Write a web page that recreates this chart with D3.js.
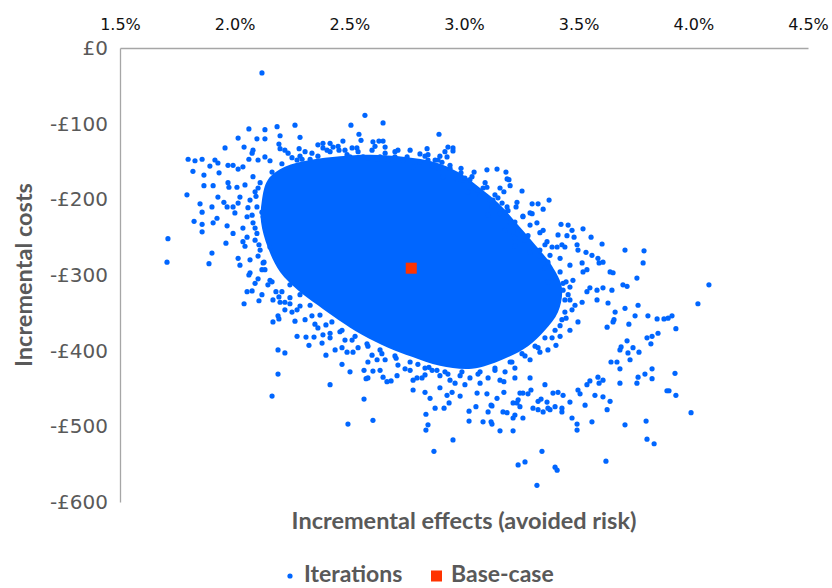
<!DOCTYPE html>
<html>
<head>
<meta charset="utf-8">
<script src="https://cdn.jsdelivr.net/npm/d3@7"></script>
<style>
  body { margin: 0; background: #fff; }
</style>
</head>
<body>
<div id="chart"></div>
<script>
// tick values
const xTicks = [1.5, 2.0, 2.5, 3.0, 3.5, 4.0, 4.5];
const yTicks = [0, -100, -200, -300, -400, -500, -600];

// base-case result: [incremental effect (%), incremental cost (£)]
const baseCase = [2.77, -291];

// outline of the area where the iterations overlap into solid colour
const denseCloud = [
  [2.119,-201],[2.145,-174],[2.219,-157],[2.329,-148],[2.459,-143],[2.590,-141],[2.743,-144],
  [2.874,-151],[2.974,-164],[3.070,-185],[3.157,-207],[3.236,-234],[3.310,-260],[3.384,-288],
  [3.427,-317],[3.410,-349],[3.353,-373],[3.279,-394],[3.166,-412],[3.035,-424],[2.895,-420],
  [2.773,-408],[2.669,-396],[2.555,-379],[2.451,-359],[2.363,-340],[2.276,-320],[2.198,-296],
  [2.145,-264],[2.115,-230]
];

const iterations = [
  [2.119,-33],[2.568,-89],[2.647,-99],[2.507,-102],[2.263,-102],[2.062,-107],[2.132,-108],[2.185,-104],
  [2.891,-114],[2.542,-114],[2.015,-119],[2.097,-120],[2.132,-120],[2.198,-116],[2.285,-118],[2.551,-122],
  [2.603,-124],[2.629,-123],[2.647,-123],[2.472,-123],[2.385,-126],[2.416,-126],[1.958,-132],[2.041,-131],
  [2.080,-135],[2.193,-127],[2.198,-133],[2.219,-135],[2.233,-139],[2.281,-133],[2.337,-139],[2.451,-130],
  [2.455,-135],[2.512,-132],[2.538,-137],[2.656,-131],[2.699,-137],[2.839,-133],[2.843,-141],[2.843,-148],
  [1.797,-147],[1.827,-149],[1.858,-147],[1.818,-163],[1.866,-168],[1.892,-156],[1.914,-148],[1.927,-152],
  [1.932,-165],[1.971,-155],[1.993,-155],[2.015,-160],[2.036,-157],[2.062,-147],[2.076,-139],[2.102,-148],
  [2.132,-144],[2.154,-149],[1.866,-182],[1.906,-182],[1.971,-178],[1.975,-184],[1.792,-194],[1.849,-206],
  [1.858,-217],[1.901,-210],[1.927,-197],[1.953,-204],[1.967,-210],[1.823,-229],[1.858,-233],[1.858,-243],
  [1.906,-231],[1.923,-225],[1.967,-235],[2.001,-218],[2.015,-205],[1.993,-245],[1.962,-258],[1.709,-252],
  [1.705,-283],[1.901,-271],[1.888,-285],[2.015,-278],[2.036,-256],[2.067,-297],[2.041,-338],[2.054,-322],
  [2.076,-321],[2.106,-334],[2.119,-326],[2.167,-362],[2.189,-354],[2.193,-358],[2.263,-361],[2.272,-381],
  [2.189,-399],[2.219,-403],[2.189,-431],[2.062,-300],[2.102,-305],[2.023,-287],[2.132,-293],[2.219,-336],
  [2.241,-338],[2.193,-329],[2.311,-382],[2.346,-382],[2.324,-393],[2.381,-390],[2.385,-379],[2.416,-383],
  [2.398,-406],[2.163,-460],[2.416,-445],[2.468,-418],[2.503,-428],[2.438,-399],[2.468,-396],[2.490,-402],
  [2.516,-402],[2.564,-426],[2.573,-437],[2.581,-436],[2.564,-464],[2.603,-492],[2.494,-497],[2.603,-427],
  [2.634,-426],[2.647,-435],[2.664,-441],[2.682,-440],[2.708,-433],[2.743,-424],[2.581,-415],[2.621,-412],
  [2.778,-452],[2.778,-439],[2.795,-436],[2.830,-455],[2.852,-463],[2.874,-476],[2.834,-484],[2.843,-498],
  [2.834,-505],[2.869,-533],[2.817,-436],[2.847,-422],[2.882,-426],[2.952,-518],[2.913,-476],[2.935,-469],
  [2.926,-459],[2.948,-455],[3.022,-480],[3.022,-493],[3.052,-474],[3.083,-494],[3.118,-494],[3.122,-497],
  [3.105,-481],[3.122,-473],[3.157,-506],[3.214,-506],[3.170,-481],[3.188,-482],[3.144,-463],[3.214,-489],
  [3.222,-485],[3.257,-489],[3.236,-551],[3.266,-547],[3.340,-533],[3.318,-578],[3.397,-554],[3.406,-558],
  [3.301,-476],[3.323,-478],[3.345,-481],[3.366,-476],[3.375,-478],[3.397,-474],[3.427,-476],[3.427,-481],
  [3.471,-489],[3.493,-497],[3.493,-505],[3.558,-494],[3.619,-546],[3.624,-478],[3.606,-461],[3.637,-467],
  [3.702,-498],[3.680,-443],[3.794,-493],[3.798,-517],[3.829,-523],[3.754,-443],[3.759,-435],[3.789,-431],
  [3.820,-437],[3.885,-453],[3.894,-453],[3.924,-459],[3.990,-482],[3.920,-430],[3.257,-456],[3.244,-456],
  [3.236,-465],[3.244,-474],[3.279,-457],[3.292,-452],[3.323,-467],[3.336,-464],[3.362,-468],[3.388,-456],
  [3.410,-455],[3.057,-456],[3.100,-457],[3.118,-472],[3.174,-455],[3.174,-441],[3.214,-469],[3.231,-469],
  [3.506,-457],[3.606,-439],[4.020,-338],[3.759,-340],[3.702,-344],[3.659,-349],[3.654,-359],[3.746,-354],
  [3.802,-354],[3.842,-358],[3.872,-358],[3.890,-357],[3.907,-354],[3.924,-371],[3.846,-377],[3.820,-381],
  [3.798,-383],[3.815,-391],[3.719,-365],[3.711,-387],[3.680,-399],[3.685,-395],[3.724,-412],[3.715,-403],
  [3.737,-396],[3.763,-402],[3.680,-424],[3.667,-415],[3.641,-415],[3.820,-424],[3.584,-435],[3.589,-443],
  [3.549,-440],[3.536,-445],[3.497,-452],[4.068,-313],[3.702,-267],[3.785,-268],[3.781,-284],[3.637,-296],
  [3.650,-297],[3.754,-304],[3.693,-313],[3.711,-315],[3.645,-320],[3.606,-317],[3.580,-320],[3.549,-317],
  [3.536,-322],[3.580,-333],[3.628,-337],[3.624,-369],[3.650,-362],[3.536,-293],[3.515,-284],[3.519,-296],
  [3.432,-311],[3.462,-316],[3.432,-320],[3.475,-307],[3.602,-259],[3.493,-260],[3.497,-267],[3.532,-270],
  [3.558,-274],[3.584,-278],[3.606,-283],[3.589,-284],[3.554,-250],[3.480,-250],[3.449,-248],[3.410,-247],
  [3.519,-239],[3.423,-233],[3.454,-234],[3.471,-241],[3.406,-263],[3.427,-260],[3.440,-263],[3.362,-256],
  [3.353,-260],[3.384,-263],[3.345,-241],[3.331,-244],[3.318,-231],[3.288,-234],[3.257,-222],[3.288,-218],
  [3.297,-219],[3.297,-206],[3.323,-206],[3.345,-213],[3.371,-201],[3.231,-204],[3.227,-210],[3.253,-189],
  [3.157,-185],[3.174,-190],[3.188,-173],[3.196,-174],[3.201,-182],[3.100,-161],[3.144,-160],[3.183,-164],
  [3.092,-178],[3.083,-185],[3.100,-184],[3.026,-174],[3.035,-170],[3.044,-164],[2.987,-159],[2.987,-165],
  [2.908,-170],[2.970,-173],[2.917,-137],[2.930,-131],[2.952,-132],[2.952,-136],[2.926,-144],[2.904,-151],
  [2.869,-156],[2.891,-159],[3.148,-198],[3.166,-205],[3.188,-210],[3.192,-215],[3.113,-201],[3.135,-194],
  [3.222,-251],[3.214,-243],[3.236,-241],[3.257,-223],[2.272,-148],[2.294,-147],[2.329,-147],[2.385,-132],
  [2.403,-135],[2.429,-131],[2.490,-141],[2.503,-144],[2.560,-144],[2.581,-145],[2.621,-147],[2.634,-144],
  [2.669,-148],[2.699,-144],[2.734,-148],[2.752,-144],[2.778,-157],[2.808,-151],[2.861,-156],[2.874,-148],
  [2.080,-170],[2.111,-178],[2.141,-188],[2.067,-201],[2.097,-210],[2.132,-205],[2.054,-223],[2.080,-231],
  [2.124,-223],[2.054,-250],[2.097,-245],[2.141,-241],[2.111,-267],[2.154,-263],[2.067,-280],[2.124,-284],
  [2.185,-280],[2.010,-184],[2.023,-197],[1.993,-210],[2.241,-313],[2.285,-326],[2.329,-340],[2.372,-353],
  [2.424,-362],[2.468,-373],[2.525,-381],[2.577,-391],[2.634,-399],[2.699,-407],[2.765,-415],[2.830,-423],
  [2.917,-428],[2.983,-433],[3.070,-428],[3.135,-423],[3.201,-415],[2.154,-307],[2.206,-322],[2.272,-346],
  [2.350,-365],[3.440,-333],[3.471,-346],[3.427,-359],[3.397,-373],[3.353,-383],[3.310,-394],[3.253,-404],
  [3.497,-362],[3.515,-336],[3.462,-287],[3.419,-278],[3.375,-274],[2.939,-439],[3.004,-445],[3.070,-443],
  [3.157,-439],[3.222,-436],[3.288,-436],[3.353,-445],[3.432,-459],[3.462,-468],[3.528,-472],[3.571,-459],
  [2.983,-460],[2.895,-449],
  // edge of the solid cloud
  [2.045,-181],[2.089,-190],[2.058,-211],[2.036,-238],[2.089,-254],[2.045,-262],[2.102,-275],[2.119,-293],
  [2.089,-311],[2.145,-313],[2.167,-333],[2.219,-346],[2.119,-217],[2.093,-196],
  [2.250,-145],[2.307,-137],[2.363,-143],[2.416,-137],[2.481,-135],[2.533,-132],[2.599,-135],[2.656,-139],
  [2.712,-135],[2.765,-135],[2.808,-140],[2.895,-143],[2.363,-128],[2.612,-130],
  [2.939,-155],[2.996,-174],[3.048,-185],[3.017,-190],[3.070,-196],[3.122,-209],[3.105,-221],[3.157,-219],
  [3.201,-230],[3.179,-241],[3.222,-262],[3.266,-254],[3.288,-270],[3.331,-275],[3.353,-291],[3.397,-304],
  [3.366,-309],
  [3.454,-326],[3.484,-340],[3.440,-349],[3.462,-373],[3.419,-381],[3.401,-393],[3.366,-399],
  [3.331,-402],[3.288,-412],[3.222,-423],[3.179,-428],[3.105,-436],[3.026,-436],[2.961,-443],[2.895,-433],
  [2.830,-432],[2.765,-426],[2.712,-419],[2.656,-412],[2.599,-406],[2.538,-396],[2.481,-386],[2.416,-377],
  [2.363,-370],[2.307,-359],[2.250,-349],[2.198,-336],
  [2.102,-185],[2.076,-221],[2.089,-238],[2.106,-260],[2.128,-283],[2.163,-309],[2.180,-322],[2.241,-330],
  [2.285,-341],[2.337,-354],[2.398,-366],[2.459,-375],[2.512,-386],[2.581,-394],[2.642,-404],[2.704,-410],
  [2.799,-418],[2.861,-426],[2.930,-431],[2.991,-428],[3.061,-431],[3.135,-426],[3.209,-415],[3.266,-407],
  [3.323,-396],[3.384,-383],[3.419,-367],[3.445,-357],[3.462,-333],[3.445,-309],[3.419,-296],[3.366,-283],
  [3.331,-267],[3.279,-248],[3.222,-230],[3.179,-217],[3.126,-201],[3.061,-188],[3.004,-172],[2.939,-159],
  [2.887,-148],[2.830,-143],[2.285,-143],[2.206,-153],[2.163,-164]
];

const blue = '#0066ff';
const red = '#ff3300';
const grey = '#595959';

const margin = { top: 48, right: 24, bottom: 86, left: 120 };
const width = 832 - margin.left - margin.right;
const height = 588 - margin.top - margin.bottom;

const svg = d3.select('#chart')
    .append('svg')
    .attr('width', 832)
    .attr('height', 588)
    .append('g')
    .attr('transform', `translate(${margin.left},${margin.top})`);

const xScale = d3.scaleLinear()
    .domain([1.5, 4.5])
    .range([0, width]);

const yScale = d3.scaleLinear()
    .domain([0, -600])
    .range([0, height]);

// x axis sits along £0, at the top
const xAxis = svg.append('g')
    .attr('class', 'x-axis')
    .call(d3.axisTop(xScale).tickValues(xTicks).tickSize(0).tickPadding(18)
        .tickFormat(d => d.toFixed(1) + '%'));

const yAxis = svg.append('g')
    .attr('class', 'y-axis')
    .call(d3.axisLeft(yScale).tickValues(yTicks).tickSize(0).tickPadding(12)
        .tickFormat(d => d === 0 ? '£0' : '-£' + Math.abs(d)));

svg.selectAll('.domain').attr('stroke', '#a6a6a6').attr('stroke-width', 1.3);

xAxis.selectAll('text')
    .style('font-family', 'DejaVu Sans')
    .style('font-size', '16px')
    .attr('fill', '#111');

yAxis.selectAll('text')
    .style('font-family', 'DejaVu Sans')
    .style('font-size', '20px')
    .attr('fill', grey);

// solid part of the cloud
svg.append('path')
    .datum(denseCloud)
    .attr('d', d3.line()
        .x(d => xScale(d[0]))
        .y(d => yScale(d[1]))
        .curve(d3.curveCatmullRomClosed))
    .attr('fill', blue);

svg.selectAll('.dot')
    .data(iterations)
    .enter()
    .append('circle')
    .attr('class', 'dot')
    .attr('cx', d => xScale(d[0]))
    .attr('cy', d => yScale(d[1]))
    .attr('r', 2.6)
    .attr('fill', blue);

svg.append('rect')
    .attr('x', xScale(baseCase[0]) - 5.5)
    .attr('y', yScale(baseCase[1]) - 5.5)
    .attr('width', 11)
    .attr('height', 11)
    .attr('fill', red);

// axis titles
svg.append('text')
    .attr('x', xScale(3.0))
    .attr('y', height + 27)
    .attr('text-anchor', 'middle')
    .style('font-family', 'Lato')
    .style('font-weight', 'bold')
    .style('font-size', '23.5px')
    .attr('fill', grey)
    .text('Incremental effects (avoided risk)');

svg.append('text')
    .attr('transform', `translate(${-margin.left + 32},${yScale(-300)}) rotate(-90)`)
    .attr('text-anchor', 'middle')
    .style('font-family', 'Lato')
    .style('font-weight', 'bold')
    .style('font-size', '23.5px')
    .attr('fill', grey)
    .text('Incremental costs');

// legend
const legend = svg.append('g')
    .attr('transform', `translate(0,${height + 80})`);

legend.append('circle')
    .attr('cx', 170).attr('cy', -6).attr('r', 2.6).attr('fill', blue);
legend.append('text')
    .attr('x', 184).attr('y', 0)
    .style('font-family', 'Lato').style('font-weight', 'bold').style('font-size', '23px')
    .attr('fill', grey)
    .text('Iterations');

legend.append('rect')
    .attr('x', 311).attr('y', -11.5).attr('width', 11).attr('height', 11).attr('fill', red);
legend.append('text')
    .attr('x', 331).attr('y', 0)
    .style('font-family', 'Lato').style('font-weight', 'bold').style('font-size', '23px')
    .attr('fill', grey)
    .text('Base-case');
</script>
</body>
</html>
